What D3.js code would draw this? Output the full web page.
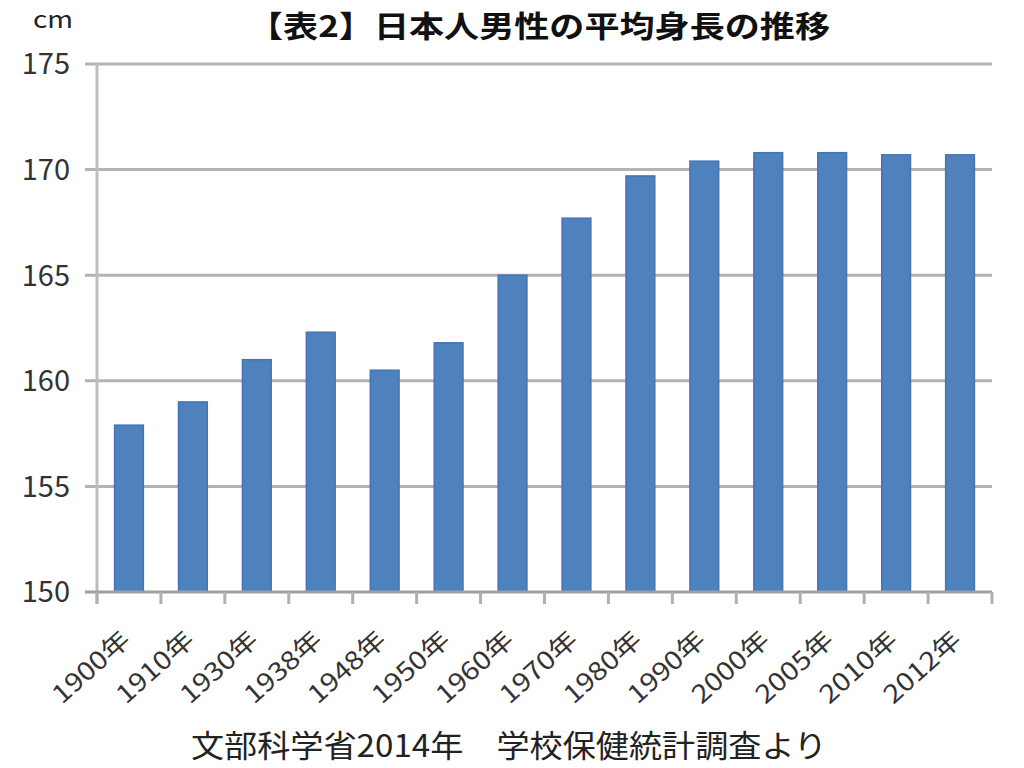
<!DOCTYPE html>
<html>
<head>
<meta charset="utf-8">
<script src="https://cdn.jsdelivr.net/npm/d3@7"></script>
<style>
	body { margin:0; background:#fff; }
	text { font-family:"Noto Sans CJK JP", "Noto Sans", sans-serif; }
</style>
</head>
<body>
<script>
// chart data
var years = ["1900年","1910年","1930年","1938年","1948年","1950年","1960年","1970年","1980年","1990年","2000年","2005年","2010年","2012年"];
var heights = [157.9, 159.0, 161.0, 162.3, 160.5, 161.8, 165.0, 167.7, 169.7, 170.4, 170.8, 170.8, 170.7, 170.7];
var yTicks = [150, 155, 160, 165, 170, 175];
var title = "【表2】日本人男性の平均身長の推移";
var unit = "cm";
var source = "文部科学省2014年　学校保健統計調査より";

var svgW = 1024, svgH = 768;
var plot = {l:97, r:992, t:64, b:592};

var svg = d3.select("body").append("svg").attr("width", svgW).attr("height", svgH);

var x = d3.scaleBand().domain(years).range([plot.l, plot.r]).paddingInner(0.55).paddingOuter(0.275);
var y = d3.scaleLinear().domain([150, 175]).range([plot.b, plot.t]);

// gridlines (with the small outside tick on the left)
svg.append('g').selectAll('line').data(yTicks.slice(1)).enter().append('line')
	.attr('x1', plot.l - 12).attr('x2', plot.r)
	.attr('y1', function(d){ return y(d); }).attr('y2', function(d){ return y(d); })
	.attr('stroke', '#b3b3b3').attr('stroke-width', 3);

// y axis line
svg.append('line').attr('x1', plot.l).attr('x2', plot.l).attr('y1', plot.t).attr('y2', plot.b + 12)
	.attr('stroke', '#bdbdbd').attr('stroke-width', 3);

// y labels
svg.append('g').selectAll('text').data(yTicks).enter().append('text')
	.attr('x', 70).attr('y', function(d){ return y(d); }).attr('dy', '0.36em')
	.attr('text-anchor', 'end').attr('font-size', 29).attr('fill', '#333')
	.text(function(d){ return d; });

// bars
svg.append('g').selectAll('rect').data(heights).enter().append('rect')
	.attr('x', function(d, i){ return x(years[i]); })
	.attr('y', function(d){ return y(d); })
	.attr('width', x.bandwidth())
	.attr('height', function(d){ return y(150) - y(d); })
	.attr('fill', '#4f81bd').attr('stroke', '#4374b6').attr('stroke-width', 1.5);

// x axis line + ticks between categories
svg.append('line').attr('x1', plot.l - 12).attr('x2', plot.r).attr('y1', plot.b).attr('y2', plot.b)
	.attr('stroke', '#a0a0a0').attr('stroke-width', 3);
var bounds = years.map(function(d){ return x(d) - x.step()*x.paddingOuter(); }).concat([plot.r]);
svg.append('g').selectAll('line').data(bounds).enter().append('line')
	.attr('x1', function(d){ return d; }).attr('x2', function(d){ return d; })
	.attr('y1', plot.b).attr('y2', plot.b + 12)
	.attr('stroke', '#b0b0b0').attr('stroke-width', 3);

// x labels, rotated
svg.append('g').selectAll('text').data(years).enter().append('text')
	.attr('transform', function(d){ return 'translate(' + (x(d) + x.bandwidth()/2 + 3) + ',' + (plot.b + 50) + ') rotate(-42)'; })
	.attr('text-anchor', 'end').attr('font-size', 25).attr('fill', '#333')
	.attr('textLength', 94).attr('lengthAdjust', 'spacingAndGlyphs')
	.text(function(d){ return d; });

// title, unit, source
svg.append('text').attr('x', 248).attr('y', 37).attr('font-size', 30).attr('font-weight', 'bold')
	.attr('fill', '#111').attr('textLength', 582).attr('lengthAdjust', 'spacingAndGlyphs').text(title);
svg.append('text').attr('x', 33).attr('y', 28).attr('font-size', 24).attr('fill', '#222')
	.attr('textLength', 40).attr('lengthAdjust', 'spacingAndGlyphs').text(unit);
svg.append('text').attr('x', 191).attr('y', 757).attr('font-size', 31).attr('fill', '#222')
	.attr('textLength', 636).attr('lengthAdjust', 'spacingAndGlyphs').text(source);
</script>
</body>
</html>
